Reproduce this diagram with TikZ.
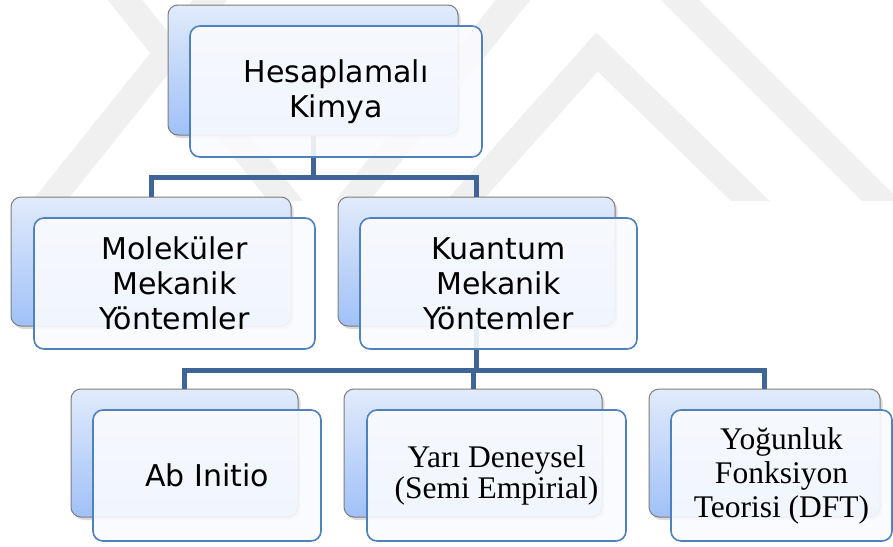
\documentclass[tikz,border=0pt]{standalone}
\usepackage{fontspec}
\newfontfamily\boxsans{DejaVu Sans}
\newfontfamily\boxserif{Liberation Serif}
\usetikzlibrary{shadows,calc}
\definecolor{wm}{RGB}{240,240,240}
\definecolor{conncol}{RGB}{62,101,150}
\definecolor{backtop}{RGB}{225,235,251}
\definecolor{backbot}{RGB}{160,193,247}
\definecolor{frontfill}{RGB}{250,251,254}
\definecolor{frontdraw}{RGB}{79,129,189}
\definecolor{backdraw}{RGB}{125,125,125}
\begin{document}
\begin{tikzpicture}[x=1pt,y=-1pt,
  wmband/.style={draw=wm, line width=27pt, line join=miter},
  conn/.style={draw=conncol, line width=5pt, line join=miter},
  backbox/.style={draw=backdraw, line width=1pt, rounded corners=10pt,
    top color=backtop, bottom color=backbot, inner sep=0pt,
    drop shadow={shadow xshift=2.5pt, shadow yshift=-3pt, opacity=0.28}},
  frontbox/.style={draw=frontdraw, line width=1.6pt, rounded corners=10pt,
    fill=frontfill, fill opacity=0.9, text opacity=1, inner sep=0pt, align=center},
  sanstext/.style={font=\boxsans\fontsize{30}{35}\selectfont},
  seriftext/.style={font=\boxserif\fontsize{31.5}{34}\selectfont},
  serifnarrow/.style={font=\boxserif\fontsize{31.5}{31}\selectfont}
]
\useasboundingbox (0,0) rectangle (893,546);
\fill[white] (0,0) rectangle (893,546);

% watermark
\begin{scope}
  \clip (0,0) rectangle (893,200);
  \draw[wmband] (101,-30) -- (301,220);
  \draw[wmband] (234,-30) -- (34,220);
  \draw[wmband] (537,-30) -- (337,220);
  \draw[wmband] (447,220) -- (597,52) -- (770,220);
  \draw[wmband] (650,-30) -- (900,220);
\end{scope}

% back boxes
\node[backbox, minimum width=290pt, minimum height=130pt] (hkB) at (313,70) {};
\node[backbox, minimum width=280pt, minimum height=129pt] (mmB) at (151,261.5) {};
\node[backbox, minimum width=277pt, minimum height=129pt] (kmB) at (476.5,261.5) {};
\node[backbox, minimum width=227pt, minimum height=128pt] (aiB) at (184.5,453) {};
\node[backbox, minimum width=258pt, minimum height=128pt] (ydB) at (473,453) {};
\node[backbox, minimum width=231pt, minimum height=128pt] (ykB) at (764.5,453) {};

% connectors
\coordinate (j1) at (313,177);
\coordinate (j2) at (476.5,370);
\draw[conn] (hkB.south) -- (j1);
\draw[conn] (mmB.north) -- (mmB.north |- j1) -- (kmB.north |- j1) -- (kmB.north);
\draw[conn] (kmB.south) -- (j2);
\draw[conn] (aiB.north) -- (aiB.north |- j2) -- (ykB.north |- j2) -- (ykB.north);
\draw[conn] (ydB.north) -- (ydB.north |- j2);

% front boxes
\node[frontbox, sanstext, minimum width=292pt, minimum height=131pt] (hkF) at (336,91.5)
  {Hesaplamalı\\Kimya};
\node[frontbox, sanstext, minimum width=281pt, minimum height=131pt] (mmF) at (174.5,283.5)
  {Moleküler\\Mekanik\\Yöntemler};
\node[frontbox, sanstext, minimum width=277pt, minimum height=131pt] (kmF) at (498.5,283.5)
  {Kuantum\\Mekanik\\Yöntemler};
\node[frontbox, sanstext, minimum width=228pt, minimum height=131pt] (aiF) at (207,475.5)
  {Ab Initio};
\node[frontbox, serifnarrow, minimum width=259pt, minimum height=131pt] (ydF) at (496.5,475.5)
  {Yarı Deneysel\\(Semi Empirial)};
\node[frontbox, seriftext, minimum width=221pt, minimum height=131pt] (ykF) at (781.5,475.5)
  {Yoğunluk\\Fonksiyon\\Teorisi (DFT)};
\end{tikzpicture}
\end{document}
